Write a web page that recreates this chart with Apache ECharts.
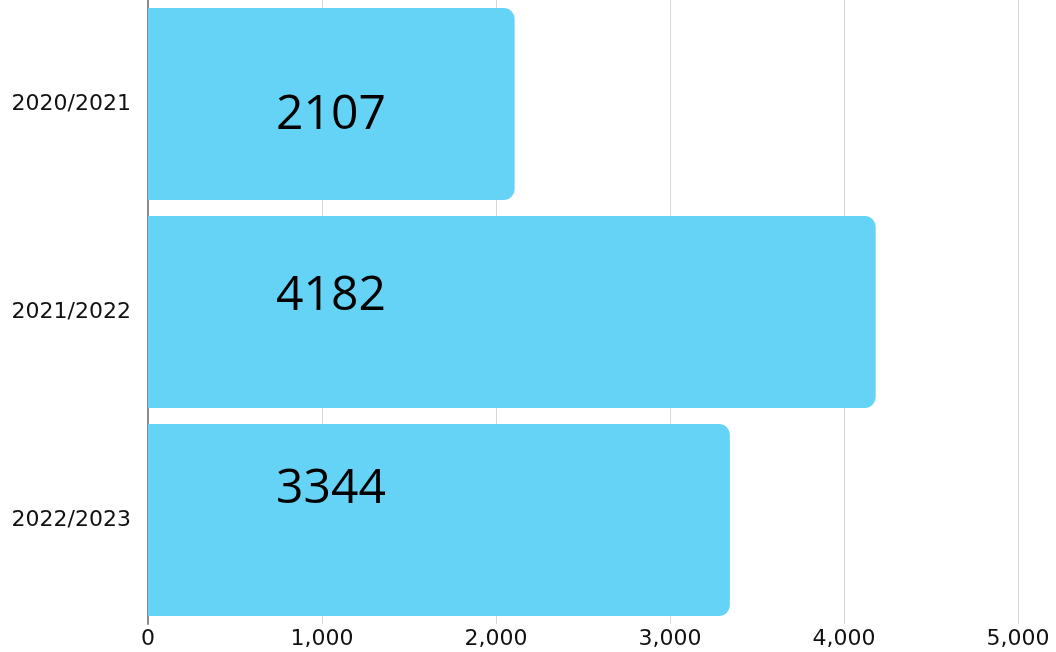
<!DOCTYPE html>
<html>
<head>
<meta charset="utf-8">
<script src="https://cdn.jsdelivr.net/npm/echarts@6/dist/echarts.min.js"></script>
<style>
    html, body { margin: 0; padding: 0; background: #fff; }
    #chart { width: 1056px; height: 652px; }
</style>
</head>
<body>
<div id="chart"></div>
<script>
// 数据
var seasons = ["2020/2021", "2021/2022", "2022/2023"];
var counts = [2107, 4182, 3344];
var xTicks = [0, 1000, 2000, 3000, 4000, 5000];

(function () {
    var myChart = echarts.init(document.getElementById("chart"));
    var axisFont = "DejaVu Sans";
    var labelFont = "Open Sans";
    // 数字标签在柱子里的上下偏移
    var labelShift = [11, -16, -31];

    var barData = counts.map(function (v, i) {
        return {
            value: v,
            label: { offset: [0, labelShift[i]] }
        };
    });

    var option = {
        animation: false,
        grid: {
            top: 0,
            left: 148,
            right: 38,
            bottom: 28
        },
        xAxis: {
            type: "value",
            min: xTicks[0],
            max: xTicks[xTicks.length - 1],
            interval: 1000,
            axisLine: { show: false },
            axisTick: { show: false },
            axisLabel: {
                color: "#111",
                fontFamily: axisFont,
                fontSize: 22,
                margin: 4,
                formatter: function (v) {
                    return v.toLocaleString("en-US");
                }
            },
            splitLine: {
                lineStyle: { color: "#d6d6d6", width: 1 }
            }
        },
        yAxis: {
            type: "category",
            inverse: true,
            data: seasons,
            axisLine: {
                show: true,
                lineStyle: { color: "#8a8a8a", width: 2 }
            },
            axisTick: { show: false },
            axisLabel: {
                color: "#111",
                fontFamily: axisFont,
                fontSize: 22,
                margin: 17,
                padding: [4, 0, 0, 0]
            }
        },
        series: [
            {
                type: "bar",
                data: barData,
                barWidth: 192,
                itemStyle: {
                    color: "#64d3f5",
                    borderRadius: [0, 11, 11, 0]
                },
                label: {
                    show: true,
                    position: [183, "50%"],
                    align: "center",
                    verticalAlign: "middle",
                    color: "#000",
                    fontFamily: labelFont,
                    fontSize: 48
                }
            }
        ]
    };

    myChart.setOption(option);
    window.addEventListener("resize", function () {
        myChart.resize();
    });
})();
</script>
</body>
</html>
